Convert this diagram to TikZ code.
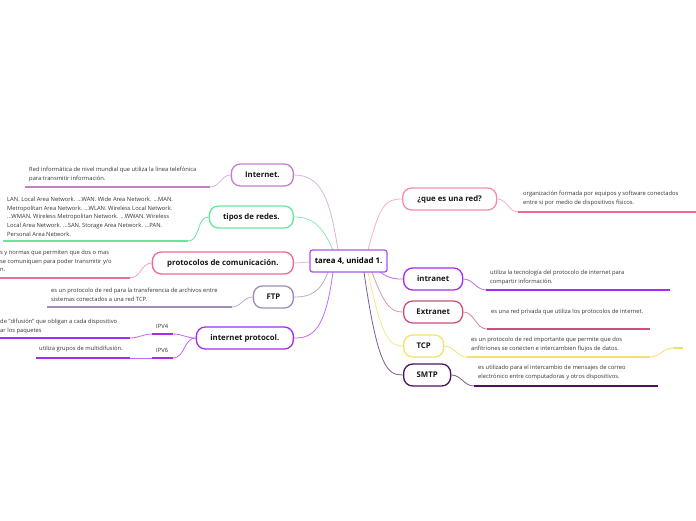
\documentclass[tikz,border=0pt]{standalone}
\usepackage{fontspec}
\setmainfont{Open Sans}
\begin{document}
\begin{tikzpicture}[x=1pt,y=-1pt,
  topic/.style={draw=#1,line width=1.3pt,fill=white,rounded corners=9pt,minimum height=22pt,inner xsep=0pt,font=\bfseries\fontsize{7.8}{9}\selectfont,text=black!90},
  leaf/.style={anchor=north west,align=left,inner sep=0pt,font=\fontsize{5.8}{8.6}\selectfont,text=black!80},
  ul/.style={draw=#1,line width=1.6pt},
  cn/.style={draw=#1,line width=0.8pt}]
\definecolor{cMain}{RGB}{168,85,240}
\definecolor{cInet}{RGB}{192,128,200}
\definecolor{cTipos}{RGB}{108,228,158}
\definecolor{cProt}{RGB}{240,104,150}
\definecolor{cFtp}{RGB}{160,140,180}
\definecolor{cIP}{RGB}{165,44,240}
\definecolor{cRed}{RGB}{244,140,178}
\definecolor{cExt}{RGB}{200,80,127}
\definecolor{cTcp}{RGB}{242,226,106}
\definecolor{cSmtp}{RGB}{75,20,94}
\useasboundingbox (0,0) rectangle (696,520);

% start points on center
\coordinate (sInet) at (338,250);
\coordinate (sTipos) at (333,250);
\coordinate (sFtp) at (328,272);
\coordinate (sIP) at (333,272);
\coordinate (sRed) at (368,250);
\coordinate (sIntra) at (380,272);
\coordinate (sExt) at (372,272);
\coordinate (sTcp) at (368,272);
\coordinate (sSmtp) at (364,272);
\coordinate (sProt) at (310,262);

% left topics
\node[topic=cInet,minimum width=62pt,anchor=east] (inet) at (294,175) {Internet.};
\node[topic=cTipos,minimum width=84pt,anchor=east] (tipos) at (294,217) {tipos de redes.};
\node[topic=cProt,minimum width=141pt,anchor=east] (prot) at (294,263) {protocolos de comunicación.};
\node[topic=cFtp,minimum width=40pt,anchor=east] (ftp) at (294,297) {FTP};
\node[topic=cIP,minimum width=97pt,anchor=east] (ip) at (294,338) {internet protocol.};

% right topics
\node[topic=cRed,minimum width=94pt,anchor=west] (red) at (402,199) {¿que es una red?};
\node[topic=cIP,minimum width=59pt,anchor=west] (intra) at (403,279) {intranet};
\node[topic=cExt,minimum width=59pt,anchor=west] (extra) at (403,312) {Extranet};
\node[topic=cTcp,minimum width=40pt,anchor=west] (tcp) at (403,346) {TCP};
\node[topic=cSmtp,minimum width=47pt,anchor=west] (smtp) at (403,375) {SMTP};

% connectors from centre
\draw[cn=cInet!60] (sInet) .. controls (330,200) and (322,175) .. (inet.east);
\draw[cn=cTipos!80] (sTipos) .. controls (322,225) and (312,217) .. (tipos.east);
\draw[cn=cProt!50] (sProt) -- (prot.east);
\draw[cn=cFtp!70] (sFtp) .. controls (320,293) and (310,297) .. (ftp.east);
\draw[cn=cIP!70] (sIP) .. controls (325,332) and (312,338) .. (ip.east);
\draw[cn=cRed!70] (sRed) .. controls (380,205) and (385,199) .. (red.west);
\draw[cn=cIP!70] (sIntra) .. controls (390,279) and (395,279) .. (intra.west);
\draw[cn=cExt!60] (sExt) .. controls (385,308) and (392,312) .. (extra.west);
\draw[cn=cTcp!80] (sTcp) .. controls (382,340) and (390,346) .. (tcp.west);
\draw[cn=cSmtp!70] (sSmtp) .. controls (378,370) and (388,375) .. (smtp.west);

% center
\node[draw=cMain,line width=1.3pt,fill=white,rounded corners=2.5pt,minimum width=77pt,minimum height=22pt,inner xsep=0pt,font=\bfseries\fontsize{7.8}{9}\selectfont] (c) at (348.5,261) {tarea 4, unidad 1.};

% ---- leaves left
\coordinate (uInetA) at (25,187); \coordinate (uInetB) at (210,187);
\draw[ul=cInet] (uInetA) -- (uInetB);
\draw[cn=cInet!60] (inet.west) to[out=180,in=0] (uInetB);
\node[leaf] (tInet) at (29,167) {Red informática de nivel mundial que utiliza la línea telefónica\\para transmitir información.};

\coordinate (uTipA) at (3,241); \coordinate (uTipB) at (188,241);
\draw[ul=cTipos] (uTipA) -- (uTipB);
\draw[cn=cTipos] (tipos.west) to[out=180,in=0] (uTipB);
\node[leaf] (tTipos) at (7,197) {LAN. Local Area Network. ...WAN. Wide Area Network. ...MAN.\\Metropolitan Area Network. ...WLAN. Wireless Local Network.\\...WMAN. Wireless Metropolitan Network. ...WWAN. Wireless\\Local Area Network. ...SAN. Storage Area Network. ...PAN.\\Personal Area Network.};

\coordinate (uProA) at (0,278); \coordinate (uProB) at (130,278);
\draw[ul=cProt] (uProA) -- (uProB);
\draw[cn=cProt!60] (prot.west) to[out=180,in=0] (uProB);
\node[leaf] (tProt) at (0,250) {s y normas que permiten que dos o mas\\se comuniquen para poder transmitir y/o\\n.};

\coordinate (uFtpA) at (47,307); \coordinate (uFtpB) at (232,307);
\draw[ul=cFtp] (uFtpA) -- (uFtpB);
\draw[cn=cFtp!70] (ftp.west) to[out=180,in=0] (uFtpB);
\node[leaf] (tFtp) at (51,288) {es un protocolo de red para la transferencia de archivos entre\\sistemas conectados a una red TCP.};

% internet protocol subtree
\coordinate (uV4A) at (152,334); \coordinate (uV4B) at (173,334);
\coordinate (uV6A) at (152,358); \coordinate (uV6B) at (173,358);
\draw[ul=cIP] (uV4A) -- (uV4B);
\draw[ul=cIP] (uV6A) -- (uV6B);
\draw[cn=cIP!70] (ip.west) to[out=180,in=0] (uV4B);
\draw[cn=cIP!70] (ip.west) to[out=180,in=0] (uV6B);
\node[leaf,anchor=south west] (lV4) at (156,329) {IPV4};
\node[leaf,anchor=south west] (lV6) at (156,353) {IPV6};

\coordinate (uV4lA) at (0,338); \coordinate (uV4lB) at (130,338);
\draw[ul=cIP] (uV4lA) -- (uV4lB);
\draw[cn=cIP!70] (uV4A) to[out=180,in=0] (uV4lB);
\node[leaf] (tV4) at (0,319) {de "difusión" que obligan a cada dispositivo\\ar los paquetes};

\coordinate (uV6lA) at (36,358); \coordinate (uV6lB) at (130,358);
\draw[ul=cIP] (uV6lA) -- (uV6lB);
\draw[cn=cIP!70] (uV6A) -- (uV6lB);
\node[leaf] (tV6) at (39,346) {utiliza grupos de multidifusión.};

% ---- leaves right
\coordinate (uRedA) at (518,212); \coordinate (uRedB) at (696,212);
\draw[ul=cProt] (uRedA) -- (uRedB);
\draw[cn=cRed!70] (red.east) to[out=0,in=180] (uRedA);
\node[leaf] (tRed) at (523,191) {organización formada por equipos y software conectados\\entre si por medio de dispositivos físicos.};

\coordinate (uIntA) at (486,290); \coordinate (uIntB) at (670,290);
\draw[ul=cIP] (uIntA) -- (uIntB);
\draw[cn=cIP!70] (intra.east) to[out=0,in=180] (uIntA);
\node[leaf] (tIntra) at (490,270) {utiliza la tecnología del protocolo de internet para\\compartir información.};

\coordinate (uExtA) at (487,329); \coordinate (uExtB) at (650,329);
\draw[ul=cExt] (uExtA) -- (uExtB);
\draw[cn=cExt!70] (extra.east) to[out=0,in=180] (uExtA);
\node[leaf] (tExt) at (491,309) {es una red privada que utiliza los protocolos de internet.};

\coordinate (uTcpA) at (467,357); \coordinate (uTcpB) at (650,357);
\coordinate (tcpSubA) at (673,348); \coordinate (tcpSubB) at (683,348);
\draw[ul=cTcp] (uTcpA) -- (uTcpB);
\draw[ul=cTcp] (tcpSubA) -- (tcpSubB);
\draw[cn=cTcp] (tcp.east) to[out=0,in=180] (uTcpA);
\draw[cn=cTcp] (uTcpB) to[out=0,in=180] (tcpSubA);
\node[leaf] (tTcp) at (471,337) {es un protocolo de red importante que permite que dos\\anfitriones se conecten e intercambien flujos de datos.};

\coordinate (uSmA) at (474,386); \coordinate (uSmB) at (658,386);
\draw[ul=cSmtp] (uSmA) -- (uSmB);
\draw[cn=cSmtp!70] (smtp.east) to[out=0,in=180] (uSmA);
\node[leaf] (tSmtp) at (478,365) {es utilizado para el intercambio de mensajes de correo\\electrónico entre computadoras y otros dispositivos.};
\end{tikzpicture}
\end{document}
